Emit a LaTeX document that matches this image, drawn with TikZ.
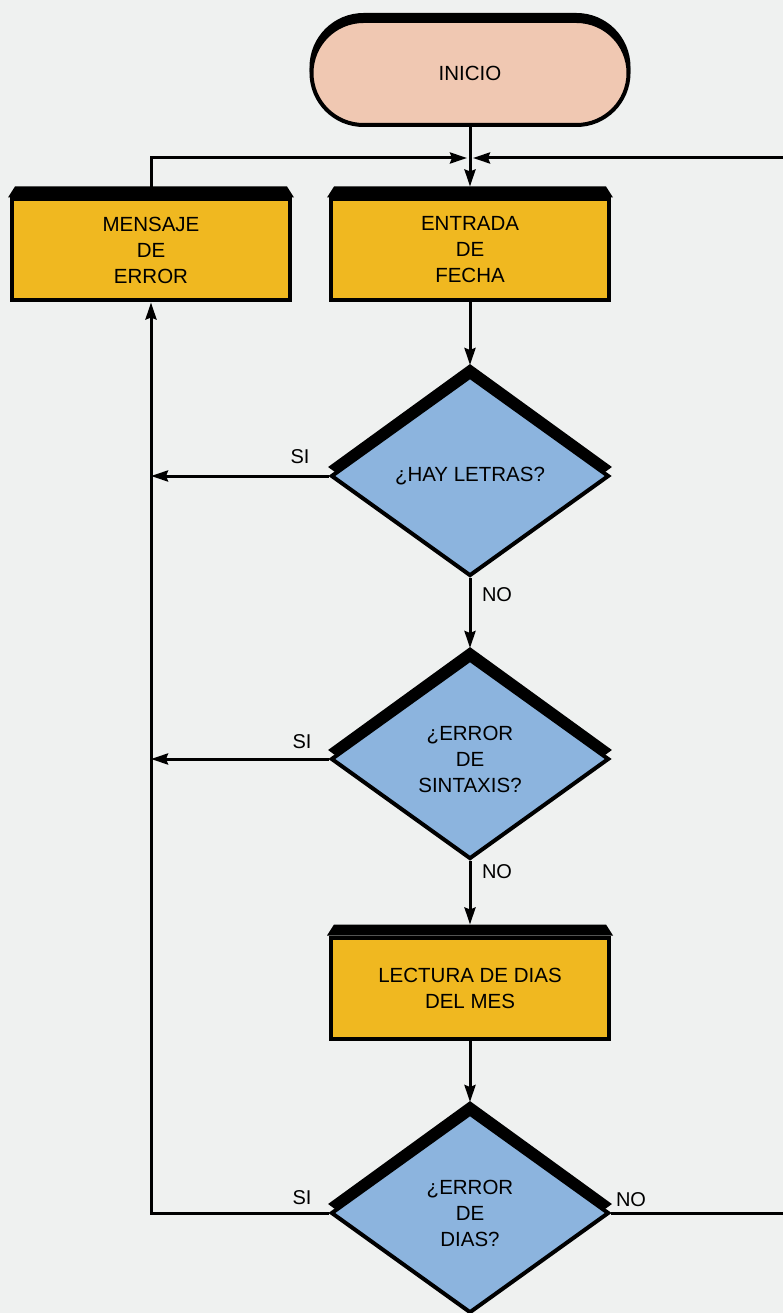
\documentclass[tikz,border=0pt]{standalone}
\usepackage{fontspec}
\setmainfont{Liberation Sans}
\usetikzlibrary{shapes.geometric,shapes.misc,arrows.meta,calc}
\definecolor{bg}{HTML}{EFF1F0}
\definecolor{peach}{HTML}{F0C8B2}
\definecolor{gold}{HTML}{F0B820}
\definecolor{dblue}{HTML}{8CB4DE}
\newcommand\topband[1]{%
  \fill[black] ($(#1.north west)+(-2,0)$) -- ($(#1.north west)+(5,-11)$)
     -- ($(#1.north east)+(-5,-11)$) -- ($(#1.north east)+(2,0)$) -- cycle;}
\begin{document}
\begin{tikzpicture}[x=1pt,y=-1pt,
  every node/.style={font=\fontsize{20.5}{26}\selectfont, align=center, inner sep=0pt},
  term/.style={rounded rectangle, fill=peach, draw=black, line width=4pt, minimum width=317pt, minimum height=104pt},
  termback/.style={rounded rectangle, fill=black, minimum width=321pt, minimum height=108pt},
  proc/.style={rectangle, fill=gold, draw=black, line width=4pt, minimum width=278pt, minimum height=101pt},
  dec/.style={diamond, fill=dblue, draw=black, line width=4pt, minimum width=278pt, minimum height=200pt},
  decback/.style={diamond, fill=black, minimum width=284pt, minimum height=206pt},
  conn/.style={line width=3pt},
  arr/.style={conn, -{Stealth[length=17pt,width=11pt,inset=2pt]}},
  lab/.style={font=\fontsize{20}{24}\selectfont}
]
\path[use as bounding box, fill=bg] (0,0) rectangle (783,1313);
\clip (0,0) rectangle (783,1313);

% terminal
\node[termback] (inicioback) at (470,67) {};
\node[term] (inicio) at (470,73) {INICIO};

% process boxes
\node[proc] (mensaje) at (151,250) {MENSAJE\\DE\\ERROR};
\topband{mensaje}
\node[proc] (entrada) at (470,250) {ENTRADA\\DE\\FECHA};
\topband{entrada}
\node[proc] (lectura) at (470,988) {LECTURA DE DIAS\\DEL MES};
\topband{lectura}

% decisions
\node[decback] (d1back) at (470,467) {};
\node[dec] (d1) at (470,476) {¿HAY LETRAS?};
\node[decback] (d2back) at (470,750) {};
\node[dec] (d2) at (470,759) {¿ERROR\\DE\\SINTAXIS?};
\node[decback] (d3back) at (470,1204) {};
\node[dec] (d3) at (470,1213) {¿ERROR\\DE\\DIAS?};

% labels
\node[lab] (si1) at (300,457) {SI};
\node[lab] (no1) at (497,595) {NO};
\node[lab] (si2) at (302,742) {SI};
\node[lab] (no2) at (497,872) {NO};
\node[lab] (si3) at (302,1198) {SI};
\node[lab] (no3) at (631,1200) {NO};

% connectors
\coordinate (j) at (470,158);
\coordinate (rin) at (783,158);
\coordinate (rout) at (783,1213);
\draw[arr] (mensaje.north) |- ([xshift=-3pt]j);
\draw[arr] (rin) -- ([xshift=3pt]j);
\draw[arr, shorten >=11pt] (inicio.south) -- (entrada.north);
\draw[arr, shorten >=9pt] (entrada.south) -- (d1.north);
\draw[arr, shorten >=9pt] (d1.south) -- (d2.north);
\draw[arr, shorten >=11pt] (d2.south) -- (lectura.north);
\draw[arr, shorten >=9pt] (lectura.south) -- (d3.north);
\draw[arr] (d1.west) -- (d1.west -| mensaje.south);
\draw[arr] (d2.west) -- (d2.west -| mensaje.south);
\draw[arr] (d3.west) -| (mensaje.south);
\draw[conn] (d3.east) -- (rout);
\end{tikzpicture}
\end{document}
